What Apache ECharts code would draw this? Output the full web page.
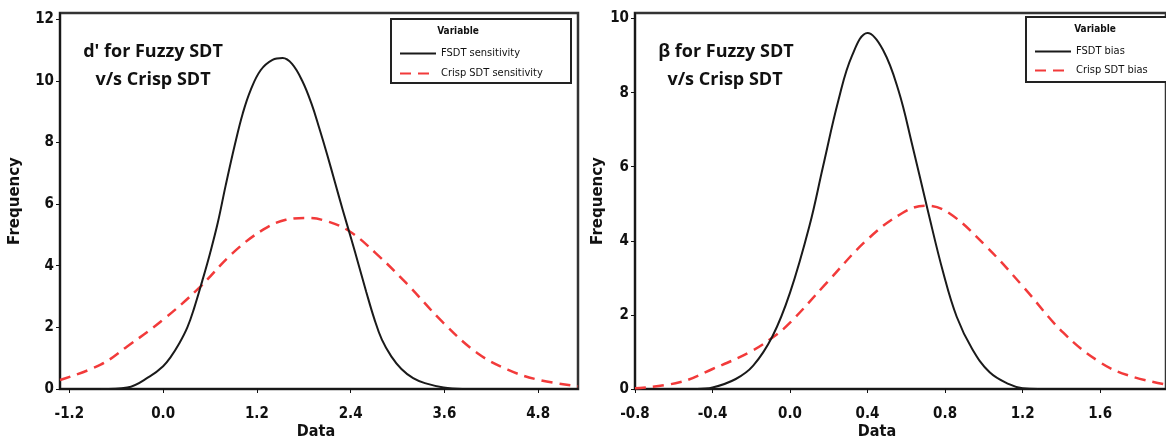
<!DOCTYPE html>
<html>
<head>
<meta charset="utf-8">
<title>Fuzzy SDT vs Crisp SDT</title>
<script src="https://cdn.jsdelivr.net/npm/echarts@6/dist/echarts.min.js"></script>
<style>
  html, body { margin: 0; padding: 0; background: #fff; }
  #chart { width: 1166px; height: 440px; }
</style>
</head>
<body>
<div id="chart"></div>
<script>
  // d' curves (left panel)
  var dPrimeFsdt = [
    [-0.80, 0.00], [-0.46, 0.05], [-0.17, 0.41], [0.00, 0.74], [0.10, 1.05],
    [0.20, 1.45], [0.31, 2.00], [0.40, 2.65], [0.50, 3.50], [0.60, 4.40],
    [0.70, 5.40], [0.80, 6.60], [0.92, 7.95], [1.02, 8.95], [1.12, 9.70],
    [1.25, 10.35], [1.40, 10.68], [1.53, 10.74], [1.65, 10.55], [1.78, 10.00],
    [1.90, 9.25], [2.00, 8.45], [2.10, 7.60], [2.20, 6.70], [2.30, 5.80],
    [2.41, 4.85], [2.50, 4.05], [2.60, 3.15], [2.70, 2.30], [2.80, 1.60],
    [2.92, 1.06], [3.05, 0.65], [3.20, 0.35], [3.35, 0.19], [3.59, 0.05],
    [3.83, 0.00]
  ];
  var dPrimeCrisp = [
    [-1.32, 0.29], [-0.80, 0.79], [-0.46, 1.38], [0.00, 2.25], [0.46, 3.28],
    [0.89, 4.41], [1.28, 5.17], [1.57, 5.49], [1.83, 5.55], [2.10, 5.44],
    [2.39, 5.11], [2.72, 4.41], [3.11, 3.44], [3.59, 2.14], [4.02, 1.17],
    [4.41, 0.63], [4.80, 0.30], [5.31, 0.09]
  ];
  // beta curves (right panel)
  var betaFsdt = [
    [-0.48, 0.00], [-0.40, 0.04], [-0.28, 0.27], [-0.19, 0.63], [-0.09, 1.43],
    [0.00, 2.60], [0.10, 4.40], [0.17, 6.00], [0.25, 7.80], [0.32, 9.00],
    [0.40, 9.61], [0.48, 9.15], [0.56, 8.05], [0.63, 6.60], [0.71, 4.84],
    [0.79, 3.15], [0.86, 1.95], [0.94, 1.08], [1.03, 0.45], [1.13, 0.13],
    [1.20, 0.02], [1.28, 0.00]
  ];
  var betaCrisp = [
    [-0.80, 0.02], [-0.57, 0.18], [-0.40, 0.54], [-0.21, 0.99], [-0.09, 1.39],
    [0.00, 1.79], [0.19, 2.87], [0.40, 4.04], [0.58, 4.75], [0.70, 4.95],
    [0.82, 4.75], [1.01, 3.86], [1.20, 2.78], [1.41, 1.52], [1.60, 0.72],
    [1.75, 0.36], [1.94, 0.12]
  ];

  var dPrimeTicksX = [-1.2, 0.0, 1.2, 2.4, 3.6, 4.8];
  var dPrimeTicksY = [0, 2, 4, 6, 8, 10, 12];
  var betaTicksX = [-0.8, -0.4, 0.0, 0.4, 0.8, 1.2, 1.6];
  var betaTicksY = [0, 2, 4, 6, 8, 10];

  var seriesNames = ['FSDT sensitivity', 'Crisp SDT sensitivity', 'FSDT bias', 'Crisp SDT bias'];

  var FONT = "'DejaVu Sans Condensed', 'Liberation Sans Narrow', 'DejaVu Sans', sans-serif";
  var TITLE_FONT = "'Open Sans', 'DejaVu Sans', sans-serif";

  function xAxis(idx, min, max, ticks) {
    return {
      type: 'value', gridIndex: idx, min: min, max: max,
      axisLine: { onZero: false, lineStyle: { color: '#111', width: 1.5 } },
      axisTick: { show: true, length: 4, customValues: ticks, lineStyle: { color: '#111' } },
      axisLabel: {
        customValues: ticks, margin: 18, color: '#111',
        fontFamily: FONT, fontWeight: 'bold', fontSize: 15,
        formatter: function (v) { return v.toFixed(1); }
      },
      splitLine: { show: false }
    };
  }

  function yAxis(idx, max, ticks, gap) {
    return {
      type: 'value', gridIndex: idx, min: 0, max: max,
      name: 'Frequency', nameLocation: 'middle', nameGap: gap,
      nameTextStyle: { fontFamily: "'DejaVu Sans', sans-serif", fontWeight: 'bold', fontSize: 15, color: '#111' },
      axisLine: { show: true, onZero: false, lineStyle: { color: '#111', width: 1.5 } },
      axisTick: { show: true, length: 4, customValues: ticks, lineStyle: { color: '#111' } },
      axisLabel: {
        customValues: ticks, margin: 6, color: '#111',
        fontFamily: FONT, fontWeight: 'bold', fontSize: 15
      },
      splitLine: { show: false }
    };
  }

  function curve(name, idx, data, dashed) {
    return {
      name: name, type: 'line', xAxisIndex: idx, yAxisIndex: idx,
      data: data, smooth: 0.4, symbol: 'none',
      lineStyle: dashed
        ? { color: '#f23a3a', width: 2.5, type: [11, 7] }
        : { color: '#1a1a1a', width: 2 },
      itemStyle: { color: dashed ? '#f23a3a' : '#1a1a1a' },
      z: dashed ? 2 : 3
    };
  }

  function legendBox(x, y, w, h) {
    return {
      type: 'rect', shape: { x: x, y: y, width: w, height: h },
      style: { fill: '#fff', stroke: '#222', lineWidth: 2 }, z: 10
    };
  }

  function text(x, y, str, size, align) {
    return {
      type: 'text', x: x, y: y, z: 11,
      style: {
        text: str, fill: '#111', font: 'bold ' + size + 'px ' + (size > 16 ? TITLE_FONT : FONT),
        textAlign: align || 'center', textVerticalAlign: 'middle'
      }
    };
  }

  var chart = echarts.init(document.getElementById('chart'));

  var legendCommon = {
    orient: 'vertical', itemWidth: 36, itemHeight: 10, z: 12,
    itemStyle: { opacity: 0, borderWidth: 0 },
    textStyle: { fontFamily: FONT, fontSize: 11, color: '#111' }
  };

  var gridCommon = {
    top: 13, bottom: 51, show: true, outerBoundsMode: 'none', containLabel: false,
    borderColor: '#333', borderWidth: 2.5, backgroundColor: '#fff'
  };

  var option = {
    animation: false,
    backgroundColor: '#fff',
    grid: [
      echarts.util.extend({ left: 60, right: 588 }, gridCommon),
      echarts.util.extend({ left: 635, right: 0 }, gridCommon)
    ],
    xAxis: [
      xAxis(0, -1.32, 5.31, dPrimeTicksX),
      xAxis(1, -0.8, 1.94, betaTicksX)
    ],
    yAxis: [
      yAxis(0, 12.2, dPrimeTicksY, 37),
      yAxis(1, 10.15, betaTicksY, 29)
    ],
    legend: [
      echarts.util.extend({ data: seriesNames.slice(0, 2), left: 394, top: 43, itemGap: 9 }, legendCommon),
      echarts.util.extend({ data: seriesNames.slice(2, 4), left: 1029, top: 41, itemGap: 8 }, legendCommon)
    ],
    graphic: [
      legendBox(391, 19, 180, 64),
      legendBox(1026, 17, 150, 65),
      text(458, 31, 'Variable', 10),
      text(1095, 29, 'Variable', 10),
      text(153, 52, "d' for Fuzzy SDT", 18),
      text(153, 80, 'v/s Crisp SDT', 18),
      text(726, 52, '\u03b2 for Fuzzy SDT', 18),
      text(725, 80, 'v/s Crisp SDT', 18),
      text(316, 432, 'Data', 16),
      text(877, 432, 'Data', 16)
    ],
    series: [
      curve(seriesNames[0], 0, dPrimeFsdt, false),
      curve(seriesNames[1], 0, dPrimeCrisp, true),
      curve(seriesNames[2], 1, betaFsdt, false),
      curve(seriesNames[3], 1, betaCrisp, true)
    ]
  };

  chart.setOption(option);
</script>
</body>
</html>
